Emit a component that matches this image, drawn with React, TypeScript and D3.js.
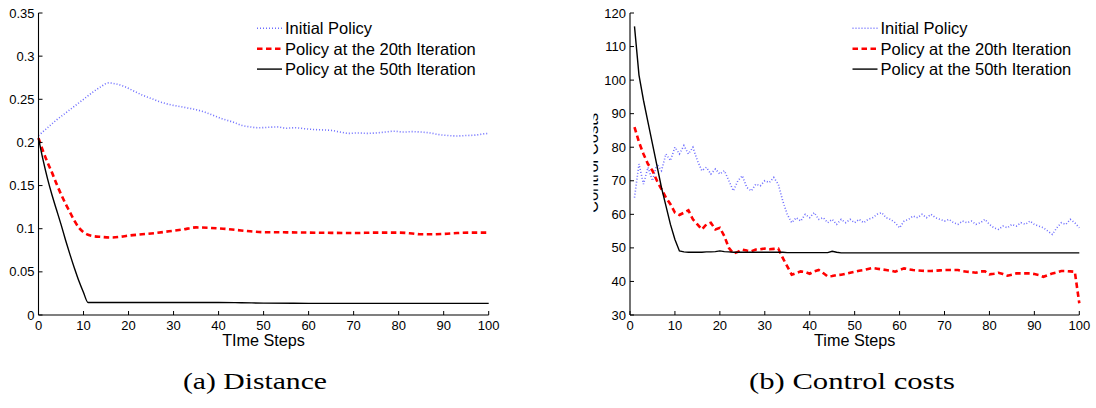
import React from 'react';
import * as d3 from 'd3';

// ---------- data ----------
const timeTicks = [0, 10, 20, 30, 40, 50, 60, 70, 80, 90, 100];
const distTicksY = [0, 0.05, 0.1, 0.15, 0.2, 0.25, 0.3, 0.35];
const costTicksY = [30, 40, 50, 60, 70, 80, 90, 100, 110, 120];
const legendLabels = ['Initial Policy', 'Policy at the 20th Iteration', 'Policy at the 50th Iteration'];
const captions = ['(a)  Distance', '(b)  Control costs'];
const xLabels = ['TIme Steps', 'Time Steps'];
const costYLabel = 'Control Costs';

// Distance panel: [time step, distance]
const distInitial: [number, number][] = [
  [0, 0.208], [2, 0.217], [4, 0.226], [6, 0.234], [8, 0.242], [10, 0.25], [12, 0.258], [14, 0.265],
  [15.5, 0.269], [17, 0.268], [19, 0.265], [21, 0.26], [23, 0.255], [25, 0.251], [27, 0.247],
  [29, 0.244], [31, 0.242], [33, 0.24], [35, 0.238], [37, 0.235], [39, 0.231], [41, 0.227],
  [43, 0.224], [45, 0.22], [47, 0.218], [49, 0.217], [51, 0.2175], [53, 0.218], [55, 0.2165],
  [57, 0.217], [59, 0.216], [61, 0.215], [63, 0.2145], [65, 0.214], [67, 0.212], [69, 0.2105],
  [71, 0.211], [73, 0.2105], [75, 0.211], [77, 0.212], [79, 0.213], [81, 0.212], [83, 0.2125],
  [85, 0.212], [87, 0.211], [89, 0.209], [91, 0.208], [93, 0.2075], [95, 0.208], [97, 0.2085],
  [99, 0.21], [100, 0.2105],
];
const distIter20: [number, number][] = [
  [0, 0.205], [1, 0.19], [2, 0.177], [3, 0.165], [4, 0.152], [5, 0.14], [6, 0.129], [7, 0.119],
  [8, 0.109], [9, 0.101], [10, 0.096], [11, 0.093], [12, 0.0915], [14, 0.0905], [16, 0.0898],
  [18, 0.0905], [20, 0.092], [23, 0.0935], [26, 0.095], [29, 0.097], [32, 0.099], [35, 0.1015],
  [38, 0.101], [41, 0.1], [44, 0.0985], [47, 0.097], [50, 0.096], [55, 0.0958], [60, 0.0955],
  [65, 0.0952], [70, 0.095], [75, 0.0955], [80, 0.0955], [83, 0.0945], [85, 0.0935], [87, 0.0935],
  [90, 0.094], [93, 0.095], [96, 0.0955], [100, 0.0955],
];
const distIter50: [number, number][] = [
  [0, 0.205], [1, 0.18], [2, 0.158], [3, 0.139], [4, 0.122], [5, 0.105], [6, 0.087], [7, 0.07],
  [8, 0.054], [9, 0.039], [10, 0.026], [11, 0.0145], [20, 0.0145], [30, 0.0145], [40, 0.0145],
  [45, 0.0142], [50, 0.0138], [60, 0.0135], [100, 0.0135],
];

// Control-cost panel: values at time steps 1..100
const costSteps = [
  1, 2, 3, 4, 5, 6, 7, 8, 9, 10, 11, 12, 13, 14, 15, 16, 17, 18, 19, 20,
  21, 22, 23, 24, 25, 26, 27, 28, 29, 30, 31, 32, 33, 34, 35, 36, 37, 38, 39, 40,
  41, 42, 43, 44, 45, 46, 47, 48, 49, 50, 51, 52, 53, 54, 55, 56, 57, 58, 59, 60,
  61, 62, 63, 64, 65, 66, 67, 68, 69, 70, 71, 72, 73, 74, 75, 76, 77, 78, 79, 80,
  81, 82, 83, 84, 85, 86, 87, 88, 89, 90, 91, 92, 93, 94, 95, 96, 97, 98, 99, 100,
];
const costInitial = [
  65, 75, 69, 74, 70, 75, 73, 78, 76, 80, 78, 80.5, 78, 80, 76, 73, 74, 72, 73.5, 72,
  73, 70, 67, 70, 71.5, 68, 67, 69, 68.5, 70, 69.5, 71, 69, 64, 60, 57.5, 59, 58, 60, 59,
  60.5, 58.5, 59, 57.5, 58.5, 57, 58.5, 57.5, 58.5, 57.5, 58.5, 57.5, 58.5, 59, 60, 60.5, 59, 58.5, 57.5, 56,
  58, 58.5, 59.5, 59, 60, 59, 60, 59, 58.5, 58, 58.5, 57.5, 57, 58, 57.5, 58, 57, 57.5, 58.5, 57,
  56, 55.5, 56.5, 56, 57, 56.5, 57.5, 57, 58, 57, 56.5, 56, 55, 54, 56, 57.5, 57, 58.5, 57.5, 56,
];
const costIter20 = [
  86, 81.5, 78, 75, 73, 70, 67.5, 65, 63, 60.5, 59.8, 60.5, 61.2, 58.5, 57, 55.5, 57, 57.5, 55.5, 56,
  53.5, 50, 48.3, 48.8, 49.5, 49.2, 49, 49.5, 49.6, 49.8, 49.6, 49.7, 49.8, 47, 44.5, 42, 42.5, 43, 42.8, 42.3,
  43, 43.4, 42.5, 41.5, 41.6, 41.9, 42, 42.3, 42.6, 42.9, 43.2, 43.4, 43.7, 44, 43.8, 43.6, 43.4, 43.2, 42.9, 43.4,
  43.9, 43.6, 43.4, 43.3, 43.2, 43.1, 43.1, 43.2, 43.3, 43.4, 43.4, 43.4, 43.4, 43.1, 42.9, 42.8, 42.6, 43, 43, 42.1,
  42.3, 42.6, 42.2, 41.7, 42, 42.4, 42.4, 42.4, 42.4, 42.2, 41.9, 41.4, 41.9, 42.4, 42.7, 43.1, 43.1, 43, 42.9, 33.5,
];
const costIter50 = [
  116, 101.5, 94, 87.5, 81, 74.5, 68, 62.5, 57, 52.5, 49.1, 48.8, 48.7, 48.7, 48.7, 48.7, 48.8, 48.8, 48.9, 49.1,
  48.9, 48.8, 48.7, 48.7, 48.7, 48.7, 48.7, 48.7, 48.7, 48.7, 48.7, 48.7, 48.7, 48.7, 48.6, 48.6, 48.6, 48.6, 48.6, 48.6,
  48.6, 48.6, 48.6, 48.6, 49.0, 48.7, 48.5, 48.5, 48.5, 48.5, 48.5, 48.5, 48.5, 48.5, 48.5, 48.5, 48.5, 48.5, 48.5, 48.5,
  48.5, 48.5, 48.5, 48.5, 48.5, 48.5, 48.5, 48.5, 48.5, 48.5, 48.5, 48.5, 48.5, 48.5, 48.5, 48.5, 48.5, 48.5, 48.5, 48.5,
  48.5, 48.5, 48.5, 48.5, 48.5, 48.5, 48.5, 48.5, 48.5, 48.5, 48.5, 48.5, 48.5, 48.5, 48.5, 48.5, 48.5, 48.5, 48.5, 48.5,
];

// ---------- styling ----------
const SANS = '"Liberation Sans", Arial, Helvetica, sans-serif';
const SERIF = '"Liberation Serif", "Times New Roman", serif';
const seriesStyle = [
  { stroke: '#6e6eff', width: 1.6, dash: '1 2' },
  { stroke: '#ff0000', width: 2.6, dash: '5.5 3.5' },
  { stroke: '#000000', width: 1.4, dash: undefined as string | undefined },
];

type Pt = [number, number];

interface PanelProps {
  xRange: [number, number];
  yRange: [number, number];
  yDomain: [number, number];
  yTicks: number[];
  fmt: (v: number) => string;
  series: Pt[][];
  xLabel: string;
  legendX: number;
  caption: string;
  captionX: number;
  captionW: number;
  curve: d3.CurveFactory;
  yLabel?: string;
}

function Panel(p: PanelProps) {
  const x = d3.scaleLinear().domain([0, 100]).range(p.xRange);
  const y = d3.scaleLinear().domain(p.yDomain).range(p.yRange);
  const line = d3.line<Pt>().x((d) => x(d[0])).y((d) => y(d[1])).curve(p.curve);
  const [x0, x1] = p.xRange;
  const [yb, yt] = p.yRange;
  const tick = 4;
  const clipId = 'clip' + Math.round(x0);
  return (
    <g>
      {p.yLabel && (
        <>
          <defs>
            <clipPath id={clipId}>
              <rect x={x0 - 36.5} y={0} width={20} height={400} />
            </clipPath>
          </defs>
          <g clipPath={`url(#${clipId})`}>
            <text
              transform={`translate(${x0 - 32.5},${(yb + yt) / 2 - 1}) rotate(-90)`}
              textAnchor="middle"
              fontFamily={SANS}
              fontSize={16.5}
              fill="#000"
            >
              {p.yLabel}
            </text>
          </g>
        </>
      )}
      {/* data */}
      {p.series.map((s, i) => (
        <path
          key={i}
          d={line(s) || ''}
          fill="none"
          stroke={seriesStyle[i].stroke}
          strokeWidth={seriesStyle[i].width}
          strokeDasharray={seriesStyle[i].dash}
        />
      ))}
      {/* axes */}
      <line x1={x0} x2={x0} y1={yb} y2={yt} stroke="#000" strokeWidth={1.1} />
      <line x1={x0} x2={x1} y1={yb} y2={yb} stroke="#000" strokeWidth={1.1} />
      {p.yTicks.map((v) => (
        <g key={'y' + v}>
          <line x1={x0} x2={x0 + tick} y1={y(v)} y2={y(v)} stroke="#000" strokeWidth={1} />
          <text x={x0 - 4} y={y(v) + 4.6} textAnchor="end" fontFamily={SANS} fontSize={13} fill="#000">
            {p.fmt(v)}
          </text>
        </g>
      ))}
      {timeTicks.map((v) => (
        <g key={'x' + v}>
          <line x1={x(v)} x2={x(v)} y1={yb} y2={yb - tick} stroke="#000" strokeWidth={1} />
          <text x={x(v)} y={yb + 15} textAnchor="middle" fontFamily={SANS} fontSize={13} fill="#000">
            {v}
          </text>
        </g>
      ))}
      <text x={(x0 + x1) / 2} y={yb + 31} textAnchor="middle" fontFamily={SANS} fontSize={16.2} fill="#000">
        {p.xLabel}
      </text>
      {/* legend */}
      {legendLabels.map((lab, i) => {
        const ly = 28.3 + i * 20.4;
        return (
          <g key={lab}>
            <line
              x1={p.legendX}
              x2={p.legendX + 25}
              y1={ly}
              y2={ly}
              stroke={seriesStyle[i].stroke}
              strokeWidth={seriesStyle[i].width}
              strokeDasharray={seriesStyle[i].dash}
            />
            <text x={p.legendX + 28} y={ly + 6} fontFamily={SANS} fontSize={16.5} fill="#000">
              {lab}
            </text>
          </g>
        );
      })}
      {/* caption */}
      <text
        x={p.captionX}
        y={389}
        fontFamily={SERIF}
        fontSize={24}
        fill="#000"
        textLength={p.captionW}
        lengthAdjust="spacingAndGlyphs"
      >
        {p.caption}
      </text>
    </g>
  );
}

export default function App() {
  const zip = (vals: number[]): Pt[] => costSteps.map((t, i) => [t, vals[i]]);
  const fmtDist = (v: number) => String(+v.toFixed(2));
  const fmtCost = (v: number) => String(v);
  return (
    <svg
      width={1096}
      height={408}
      viewBox="0 0 1096 408"
      style={{ position: 'absolute', left: 0, top: 0, background: '#fff' }}
    >
      <rect width={1096} height={408} fill="#fff" />
      <Panel
        xRange={[38.5, 488.7]}
        yRange={[315, 13]}
        yDomain={[0, 0.35]}
        yTicks={distTicksY}
        fmt={fmtDist}
        series={[distInitial, distIter20, distIter50]}
        xLabel={xLabels[0]}
        legendX={257}
        caption={captions[0]}
        captionX={183}
        captionW={144}
        curve={d3.curveMonotoneX}
      />
      <Panel
        xRange={[630, 1079.3]}
        yRange={[315, 13]}
        yDomain={[30, 120]}
        yTicks={costTicksY}
        fmt={fmtCost}
        series={[zip(costInitial), zip(costIter20), zip(costIter50)]}
        xLabel={xLabels[1]}
        legendX={852.5}
        caption={captions[1]}
        captionX={749}
        captionW={206}
        curve={d3.curveLinear}
        yLabel={costYLabel}
      />
    </svg>
  );
}
